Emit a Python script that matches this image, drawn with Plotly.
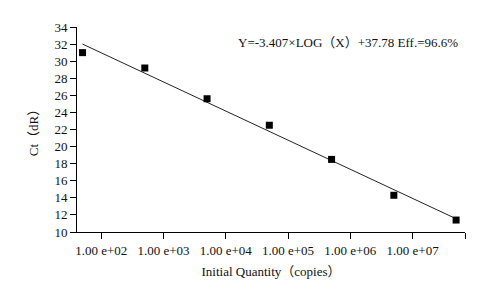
import plotly.graph_objects as go

# Data
quantity = [5e1, 5e2, 5e3, 5e4, 5e5, 5e6, 5e7]
ct_values = [31.0, 29.2, 25.6, 22.5, 18.5, 14.3, 11.4]

fit_x = [5e1, 5e7]
fit_y = [32.0, 11.55]

x_tickvals = [1e2, 1e3, 1e4, 1e5, 1e6, 1e7, 10 ** 7.842]
x_ticktext = ["1.00 e+02", "1.00 e+03", "1.00 e+04", "1.00 e+05", "1.00 e+06", "1.00 e+07", ""]
y_tickvals = [10, 12, 14, 16, 18, 20, 22, 24, 26, 28, 30, 32, 34]

equation = "Y=-3.407×LOG（X）+37.78 Eff.=96.6%"

font_family = "Liberation Serif, Times New Roman, Noto Sans CJK SC, serif"

fig = go.Figure()
fig.add_trace(go.Scatter(
    x=fit_x, y=fit_y, mode="lines",
    line=dict(color="#222", width=1), showlegend=False, hoverinfo="skip"))
fig.add_trace(go.Scatter(
    x=quantity, y=ct_values, mode="markers",
    marker=dict(symbol="square", size=7, color="black"), showlegend=False))

fig.add_annotation(
    x=1.0, xref="paper", y=32.2, yref="y", xanchor="right", yanchor="middle",
    xshift=-5, text=equation, showarrow=False,
    font=dict(family=font_family, size=13, color="#111"))

fig.update_layout(
    width=488, height=281,
    margin=dict(l=69, r=31, t=15, b=52),
    paper_bgcolor="white", plot_bgcolor="white",
    font=dict(family=font_family, size=13, color="#111"),
    xaxis=dict(
        type="log", range=[1.61, 7.842],
        tickvals=x_tickvals, ticktext=x_ticktext,
        showline=True, linecolor="black", linewidth=1,
        ticks="outside", ticklen=6, tickcolor="black",
        showgrid=False, zeroline=False,
        title=dict(text="Initial Quantity（copies）", standoff=10,
                   font=dict(family=font_family, size=13, color="#111")),
        tickfont=dict(family=font_family, size=13, color="#111")),
    yaxis=dict(
        range=[10, 34], tickvals=y_tickvals,
        showline=True, linecolor="black", linewidth=1,
        ticks="outside", ticklen=6, tickcolor="black",
        showgrid=False, zeroline=False,
        title=dict(text="Ct（dR）", standoff=12,
                   font=dict(family=font_family, size=13, color="#111")),
        tickfont=dict(family=font_family, size=13, color="#111")),
)

fig.write_html("out.html")
